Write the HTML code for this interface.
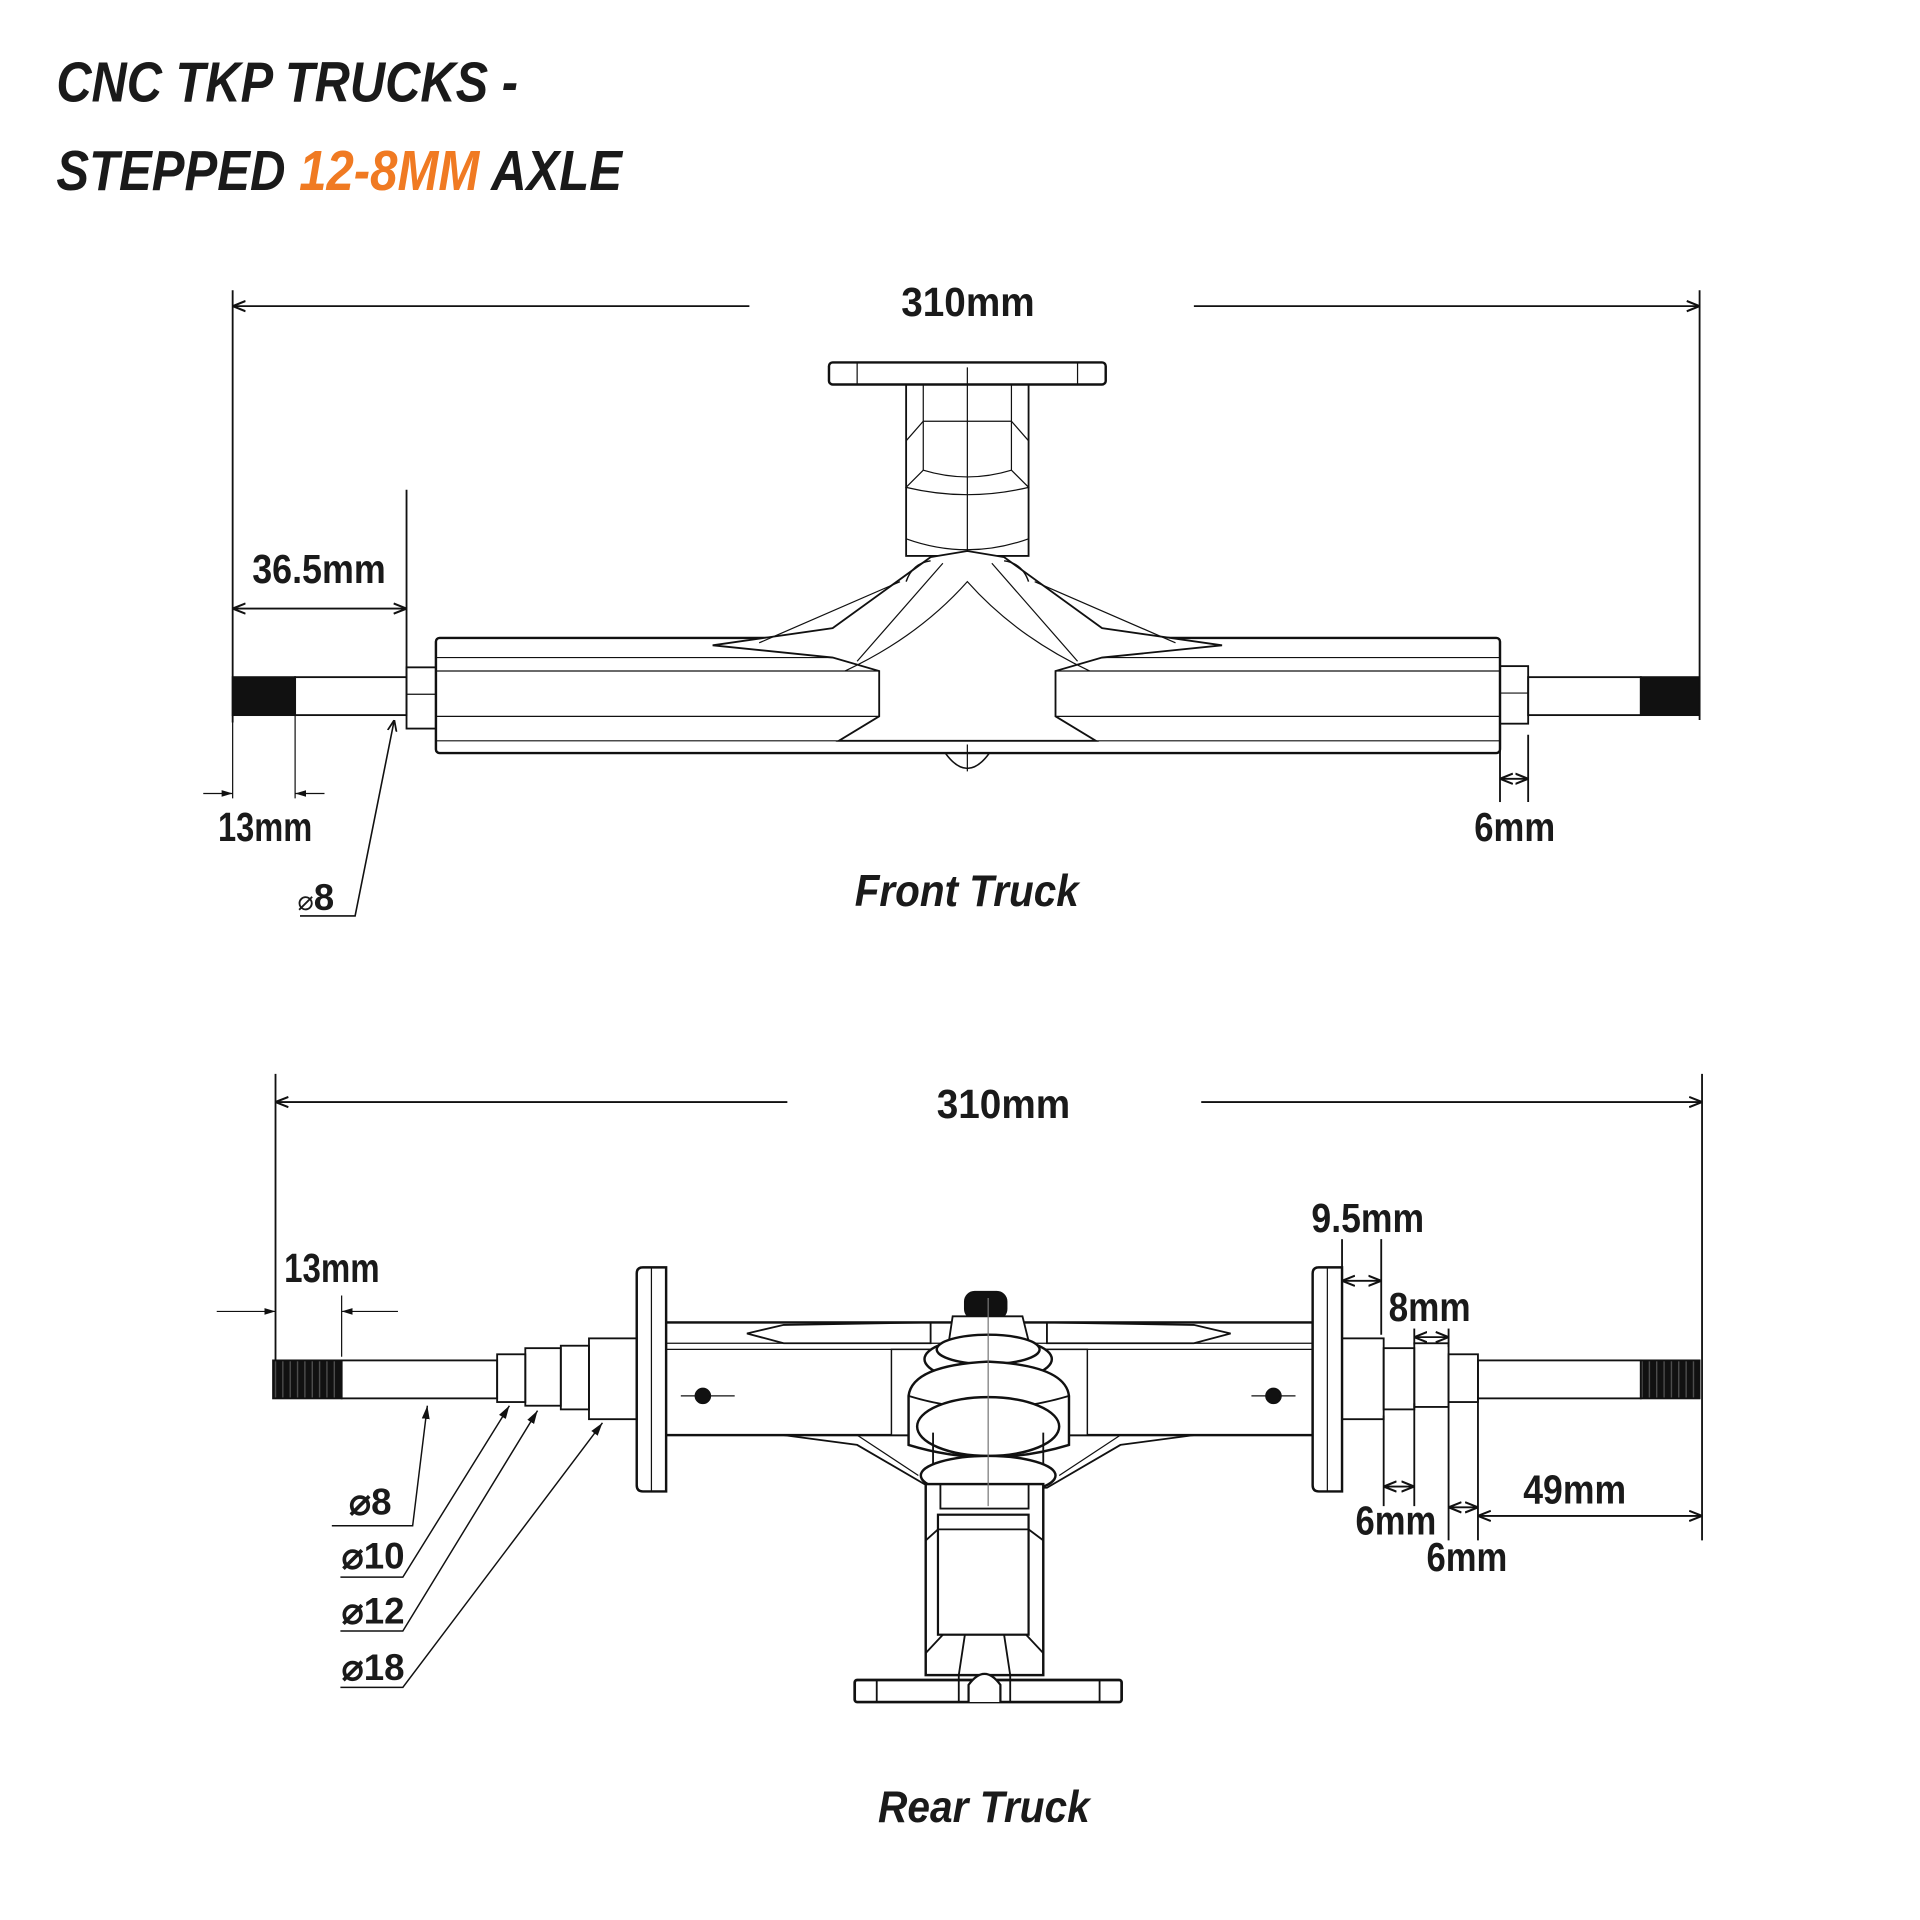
<!DOCTYPE html>
<html><head><meta charset="utf-8"><style>
html,body{margin:0;padding:0;background:#fff}
svg{display:block}
.t{font-family:"Liberation Sans",sans-serif;font-weight:bold;fill:#1a1a1a}
</style></head><body>
<svg width="1920" height="1920" viewBox="0 0 1568 1568" xmlns="http://www.w3.org/2000/svg">
<defs>
<pattern id="th" width="6" height="40" patternUnits="userSpaceOnUse"><rect width="6" height="40" fill="#111"/><line x1="3" y1="0" x2="3" y2="40" stroke="#555" stroke-width="1"/></pattern>
<marker id="a" viewBox="0 0 10 10" refX="10" refY="5" markerWidth="7" markerHeight="7" orient="auto-start-reverse"><path d="M0,1 L10,5 L0,9" fill="none" stroke="#111" stroke-width="1.6"/></marker>
<marker id="f" viewBox="0 0 10 10" refX="10" refY="5" markerWidth="9" markerHeight="9" orient="auto-start-reverse"><path d="M0,2 L10,5 L0,8 z" fill="#111"/></marker>
</defs>
<text class="t" x="46" y="83" font-size="46" font-style="italic" textLength="377" lengthAdjust="spacingAndGlyphs">CNC TKP TRUCKS -</text>
<text class="t" x="46" y="155" font-size="46" font-style="italic" textLength="462" lengthAdjust="spacingAndGlyphs">STEPPED <tspan fill="#f07a22">12-8MM</tspan> AXLE</text>

<g fill="none" stroke="#111" stroke-width="1.5">
<line x1="190" y1="237" x2="190" y2="590"/>
<line x1="1388" y1="237" x2="1388" y2="588"/>
<line x1="190" y1="250" x2="612" y2="250" marker-start="url(#a)"/>
<line x1="975" y1="250" x2="1388" y2="250" marker-end="url(#a)"/>
<line x1="332" y1="400" x2="332" y2="553"/>
<line x1="190" y1="497" x2="332" y2="497" marker-start="url(#a)" marker-end="url(#a)"/>
<line x1="190" y1="584" x2="190" y2="652" stroke-width="1"/>
<line x1="241" y1="584" x2="241" y2="652" stroke-width="1"/>
<line x1="166" y1="648" x2="190" y2="648" marker-end="url(#f)" stroke-width="1"/>
<line x1="265" y1="648" x2="241" y2="648" marker-end="url(#f)" stroke-width="1"/>
<polyline points="245,748 290,748 322,588" stroke-width="1.3" marker-end="url(#a)"/>
<line x1="1225" y1="600" x2="1225" y2="655"/>
<line x1="1248" y1="600" x2="1248" y2="655"/>
<line x1="1225" y1="636" x2="1248" y2="636" marker-start="url(#a)" marker-end="url(#a)"/>

<rect x="677" y="296" width="226" height="18" rx="3" stroke-width="2"/>
<line x1="700" y1="296" x2="700" y2="314" stroke-width="1"/><line x1="880" y1="296" x2="880" y2="314" stroke-width="1"/>
<rect x="740" y="314" width="100" height="140" stroke-width="1.5"/>
<line x1="754" y1="314" x2="754" y2="384" stroke-width="1"/><line x1="826" y1="314" x2="826" y2="384" stroke-width="1"/>
<path d="M740,360 L754,344 L826,344 L840,360" stroke-width="1"/>
<path d="M754,384 Q790,395 826,384 L840,398 Q790,410 740,398 Z" stroke-width="1"/>
<path d="M740,440 Q790,458 840,440" stroke-width="1"/>
<line x1="790" y1="300" x2="790" y2="630" stroke-width="1"/>
<rect x="356" y="521" width="869" height="94" rx="3" stroke-width="2"/>
<line x1="356" y1="537" x2="718" y2="537" stroke-width="1"/><line x1="862" y1="537" x2="1225" y2="537" stroke-width="1"/>
<line x1="356" y1="548" x2="718" y2="548" stroke-width="1"/><line x1="862" y1="548" x2="1225" y2="548" stroke-width="1"/>
<line x1="356" y1="585" x2="718" y2="585" stroke-width="1"/><line x1="862" y1="585" x2="1225" y2="585" stroke-width="1"/>
<line x1="356" y1="605" x2="1225" y2="605" stroke-width="1"/>
<rect x="718" y="548" width="144" height="60" fill="#fff" stroke="none"/>
<path d="M582,527 L680,513 L760,455 L790,450 L820,455 L900,513 L998,527 L900,537 L862,548 L862,585 L895,605 L685,605 L718,585 L718,548 L680,537 Z" fill="#fff" stroke-width="1.5"/>
<path d="M690,548 Q750,520 790,475 Q830,520 890,548" stroke-width="1"/>
<path d="M700,540 L770,460 M880,540 L810,460" stroke-width="1"/>
<path d="M620,525 L735,475 M960,525 L845,475" stroke-width="1"/>
<path d="M740,475 Q745,460 760,458 M840,475 Q835,460 820,458" stroke-width="1.2"/>
<path d="M772,615 Q790,640 808,615" stroke-width="1.3"/>
<rect x="190" y="553" width="51" height="31" fill="#111" stroke="#111"/>
<rect x="241" y="553" width="91" height="31"/>
<rect x="332" y="545" width="24" height="50"/>
<line x1="332" y1="567" x2="356" y2="567" stroke-width="1"/>
<rect x="1225" y="544" width="23" height="47"/>
<line x1="1225" y1="566" x2="1248" y2="566" stroke-width="1"/>
<rect x="1248" y="553" width="92" height="31"/>
<rect x="1340" y="553" width="48" height="31" fill="#111" stroke="#111"/>

<line x1="225" y1="877" x2="225" y2="1142"/>
<line x1="1390" y1="877" x2="1390" y2="1258"/>
<line x1="225" y1="900" x2="643" y2="900" marker-start="url(#a)"/>
<line x1="981" y1="900" x2="1390" y2="900" marker-end="url(#a)"/>
<line x1="279" y1="1058" x2="279" y2="1108" stroke-width="1"/>
<line x1="177" y1="1071" x2="225" y2="1071" marker-end="url(#f)" stroke-width="1"/>
<line x1="325" y1="1071" x2="279" y2="1071" marker-end="url(#f)" stroke-width="1"/>
<polyline points="271,1246 337,1246 349,1148" stroke-width="1.2" marker-end="url(#f)"/>
<polyline points="278,1288 329,1288 416,1148" stroke-width="1.2" marker-end="url(#f)"/>
<polyline points="278,1332 329,1332 439,1152" stroke-width="1.2" marker-end="url(#f)"/>
<polyline points="278,1378 329,1378 492,1162" stroke-width="1.2" marker-end="url(#f)"/>
<line x1="1096" y1="1012" x2="1096" y2="1040"/>
<line x1="1128" y1="1012" x2="1128" y2="1090"/>
<line x1="1096" y1="1046" x2="1128" y2="1046" marker-start="url(#a)" marker-end="url(#a)"/>
<line x1="1155" y1="1085" x2="1155" y2="1098"/>
<line x1="1183" y1="1085" x2="1183" y2="1100"/>
<line x1="1155" y1="1092" x2="1183" y2="1092" marker-start="url(#a)" marker-end="url(#a)"/>
<line x1="1130" y1="1156" x2="1130" y2="1230"/>
<line x1="1155" y1="1146" x2="1155" y2="1230"/>
<line x1="1130" y1="1214" x2="1155" y2="1214" marker-start="url(#a)" marker-end="url(#a)"/>
<line x1="1183" y1="1146" x2="1183" y2="1258"/>
<line x1="1207" y1="1141" x2="1207" y2="1258"/>
<line x1="1183" y1="1231" x2="1207" y2="1231" marker-start="url(#a)" marker-end="url(#a)"/>
<line x1="1207" y1="1238" x2="1390" y2="1238" marker-start="url(#a)" marker-end="url(#a)"/>

<rect x="542" y="1080" width="530" height="92" stroke-width="2"/>
<line x1="542" y1="1097" x2="1072" y2="1097" stroke-width="1"/>
<line x1="542" y1="1102" x2="1072" y2="1102" stroke-width="1"/>
<path d="M610,1089 L640,1082 L760,1080 L760,1097 L640,1097 Z" stroke-width="1.5"/>
<path d="M1005,1089 L975,1082 L855,1080 L855,1097 L975,1097 Z" stroke-width="1.5"/>
<line x1="556" y1="1140" x2="600" y2="1140" stroke-width="1"/><circle cx="574" cy="1140" r="6" fill="#111"/>
<line x1="1022" y1="1140" x2="1058" y2="1140" stroke-width="1"/><circle cx="1040" cy="1140" r="6" fill="#111"/>
<path d="M640,1172 L700,1180 L760,1215 L855,1215 L915,1180 L975,1172" stroke-width="1.5"/>
<path d="M700,1172 L750,1205 M915,1172 L865,1205" stroke-width="1"/>
<rect x="728" y="1102" width="160" height="70" fill="#fff" stroke-width="1.2"/>
<rect x="788" y="1055" width="34" height="22" rx="8" fill="#111"/>
<path d="M775,1095 L778,1075 L835,1075 L840,1095" fill="#fff" stroke-width="1.5"/>
<ellipse cx="807" cy="1110" rx="52" ry="18" fill="#fff" stroke-width="2"/>
<ellipse cx="807" cy="1102" rx="42" ry="12" fill="#fff" stroke-width="2"/>
<path d="M742,1140 Q745,1115 807,1112 Q870,1115 873,1140 L873,1180 Q807,1200 742,1180 Z" fill="#fff" stroke-width="2"/>
<path d="M742,1140 Q807,1160 873,1140" stroke-width="1.5"/>
<ellipse cx="807" cy="1165" rx="58" ry="24" fill="#fff" stroke-width="2"/>
<path d="M762,1170 L762,1215 M852,1170 L852,1215" stroke-width="1.5"/>
<ellipse cx="807" cy="1205" rx="55" ry="16" fill="#fff" stroke-width="2"/>
<rect x="756" y="1212" width="96" height="156" fill="#fff" stroke-width="2"/>
<rect x="768" y="1212" width="72" height="20" stroke-width="1.5"/>
<rect x="766" y="1237" width="74" height="98" stroke-width="1.8"/>
<line x1="766" y1="1249" x2="840" y2="1249" stroke-width="1.5"/>
<path d="M756,1258 L766,1249 M852,1258 L840,1249 M756,1350 L770,1335 M852,1350 L838,1335 M783,1368 L788,1335 M825,1368 L820,1335" stroke-width="1.5"/>
<line x1="807" y1="1060" x2="807" y2="1230" stroke-width="1" stroke="#777"/>
<rect x="698" y="1372" width="218" height="18" rx="2" stroke-width="2.2" fill="#fff"/>
<line x1="716" y1="1372" x2="716" y2="1390"/><line x1="898" y1="1372" x2="898" y2="1390"/>
<line x1="783" y1="1368" x2="783" y2="1390"/><line x1="825" y1="1368" x2="825" y2="1390"/>
<path d="M791,1390 L791,1376 Q804,1358 817,1376 L817,1390" stroke-width="1.8" fill="#fff"/>
<path d="M520,1040 Q520,1035 525,1035 L544,1035 L544,1218 L525,1218 Q520,1218 520,1213 Z" fill="#fff" stroke-width="2"/>
<line x1="532" y1="1035" x2="532" y2="1218" stroke-width="1"/>
<path d="M1072,1040 Q1072,1035 1077,1035 L1096,1035 L1096,1218 L1077,1218 Q1072,1218 1072,1213 Z" fill="#fff" stroke-width="2"/>
<line x1="1084" y1="1035" x2="1084" y2="1218" stroke-width="1"/>
<rect x="223" y="1111" width="56" height="31" fill="url(#th)" stroke="#111"/>
<rect x="279" y="1111" width="127" height="31"/>
<rect x="406" y="1106" width="23" height="39"/>
<rect x="429" y="1101" width="29" height="47"/>
<rect x="458" y="1099" width="23" height="52"/>
<rect x="481" y="1093" width="39" height="66"/>
<rect x="1096" y="1093" width="34" height="66"/>
<rect x="1130" y="1101" width="25" height="50"/>
<rect x="1155" y="1097" width="28" height="52"/>
<rect x="1183" y="1106" width="24" height="39"/>
<rect x="1207" y="1111" width="133" height="31"/>
<rect x="1340" y="1111" width="48" height="31" fill="url(#th)" stroke="#111"/>
</g>

<g class="t" font-size="33">
<text x="736" y="258" textLength="109" lengthAdjust="spacingAndGlyphs">310mm</text>
<text x="206" y="476" textLength="109" lengthAdjust="spacingAndGlyphs">36.5mm</text>
<text x="178" y="687" textLength="77" lengthAdjust="spacingAndGlyphs">13mm</text>
<text x="1204" y="687" textLength="66" lengthAdjust="spacingAndGlyphs">6mm</text>
<text x="765" y="913" textLength="109" lengthAdjust="spacingAndGlyphs">310mm</text>
<text x="232" y="1047" textLength="78" lengthAdjust="spacingAndGlyphs">13mm</text>
<text x="1071" y="1006" textLength="92" lengthAdjust="spacingAndGlyphs">9.5mm</text>
<text x="1134" y="1079" textLength="67" lengthAdjust="spacingAndGlyphs">8mm</text>
<text x="1107" y="1253" textLength="66" lengthAdjust="spacingAndGlyphs">6mm</text>
<text x="1165" y="1283" textLength="66" lengthAdjust="spacingAndGlyphs">6mm</text>
<text x="1244" y="1228" textLength="84" lengthAdjust="spacingAndGlyphs">49mm</text>
</g>
<g class="t" font-size="30">
<text x="243" y="743"><tspan font-size="22" font-weight="normal">⌀</tspan>8</text>
<text x="285" y="1237">⌀8</text>
<text x="279" y="1281">⌀10</text>
<text x="279" y="1326">⌀12</text>
<text x="279" y="1372">⌀18</text>
</g>
<g class="t" font-size="36" font-style="italic">
<text x="698" y="740" textLength="183" lengthAdjust="spacingAndGlyphs">Front Truck</text>
<text x="717" y="1488" textLength="173" lengthAdjust="spacingAndGlyphs">Rear Truck</text>
</g>
</svg>
</body></html>
